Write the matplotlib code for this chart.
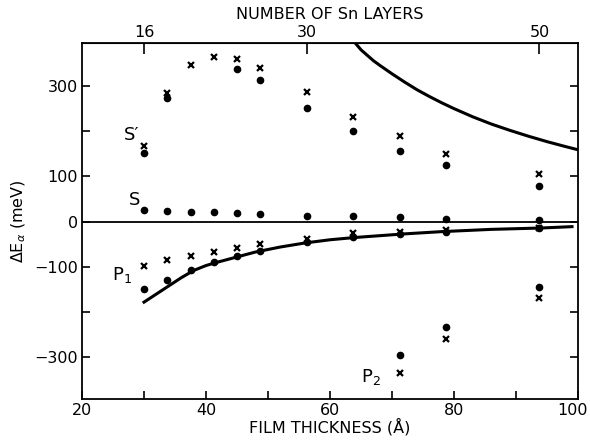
import matplotlib
matplotlib.use("Agg")
import matplotlib.pyplot as plt
import matplotlib.transforms as mtransforms
import numpy as np

# film thickness of each measured film (Angstrom)
thickness = [30.0, 33.75, 37.5, 41.25, 45.0, 48.75, 56.25, 63.75, 71.25, 78.75, 93.75]
layer_width = 1.875  # Angstrom per Sn layer
layer_ticks = [16, 30, 50]

# S' state
s_prime_x = [167, 284, 347, 365, 360, 339, 286, 231, 190, 150, 105]
s_prime_dot = [153, 273, np.nan, np.nan, 338, 314, 251, 201, 156, 125, 79]

# S state (dots only)
s_dot = [25, 24, 22, 21, 19, 18, 12, 13, 10, 6, 4]

# P1 state
p1_x = [-97, -85, -77, -68, -59, -49, -39, -26, -22, -18, -13]
p1_dot = [-150, -129, -108, -90, -77, -64, -46, -35, -27, -23, -15]

# P2 state (three thickest films)
p2_thick = [71.25, 78.75, 93.75]
p2_x = [-335, -260, -169]
p2_dot = [-296, -232, -145]

# solid curves
upper_t = [64, 65, 66, 67, 68, 70, 72, 74, 76, 78, 80, 83, 86, 89, 92, 95, 98, 100]
upper_e = [396, 380, 368, 356, 346, 327, 309, 292, 277, 263, 250, 232, 216, 202, 189, 177, 166, 159]
lower_t = [30, 32, 34, 36, 38, 40, 42, 45, 48, 52, 56, 60, 64, 68, 72, 78, 86, 94, 99]
lower_e = [-178, -160, -142, -124, -108, -97, -89, -78, -67, -56, -47, -40, -35, -31, -27, -22, -17, -14, -11]

plt.rcParams['font.family'] = 'DejaVu Sans'

fig = plt.figure(figsize=(5.9, 4.42), dpi=100)
ax = fig.add_axes([0.139, 0.0966, 0.841, 0.8068])

ax.axhline(0, color='k', lw=1.3)
ax.plot(upper_t, upper_e, color='k', lw=2.2)
ax.plot(lower_t, lower_e, color='k', lw=2.2)

mk_dot = dict(ls='none', marker='o', ms=4.5, color='k')
mk_x = dict(ls='none', marker='x', ms=5, mew=1.6, color='k')

ax.plot(thickness, s_prime_x, **mk_x)
ax.plot(thickness, s_prime_dot, **mk_dot)
ax.plot(thickness, s_dot, **mk_dot)
ax.plot(thickness, p1_x, **mk_x)
ax.plot(thickness, p1_dot, **mk_dot)
ax.plot(p2_thick, p2_x, **mk_x)
ax.plot(p2_thick, p2_dot, **mk_dot)

ax.text(28.0, 192, "S\u2032", fontsize=13, ha='center', va='center')
ax.text(28.5, 48, "S", fontsize=13, ha='center', va='center')
ax.text(26.4, -118, "P$_1$", fontsize=13, ha='center', va='center')
ax.text(66.5, -343, "P$_2$", fontsize=13, ha='center', va='center')

ax.set_xlim(20, 100)
ax.set_ylim(-393, 396)
ax.set_xticks(range(20, 101, 10))
ax.set_xticklabels(["20", "", "40", "", "60", "", "80", "", "100"])
ax.set_yticks(range(-300, 301, 100))
ax.set_yticklabels(["\u2212300", "", "\u2212100", "0", "100", "", "300"])
ax.tick_params(direction='in', length=6, width=1.2, labelsize=11.5,
               right=True, top=False, pad=3)
for sp in ax.spines.values():
    sp.set_linewidth(1.3)

# keep the "100" label inside the figure edge
last = ax.get_xticklabels()[-1]
last.set_transform(last.get_transform() +
                   mtransforms.ScaledTranslation(-4 / 72, 0, fig.dpi_scale_trans))

ax.set_xlabel("FILM THICKNESS (\u00c5)", fontsize=11.5, labelpad=0)
ax.set_ylabel("\u0394E$_\\alpha$ (meV)", fontsize=11.5, labelpad=4)

top = ax.secondary_xaxis('top', functions=(lambda t: t / layer_width,
                                           lambda n: n * layer_width))
top.set_xticks(layer_ticks)
top.tick_params(direction='in', length=8, width=1.2, labelsize=11.5, pad=2)
top.set_xlabel("NUMBER OF Sn LAYERS", fontsize=11.5, labelpad=4)

fig.savefig("out.png", dpi=100)
